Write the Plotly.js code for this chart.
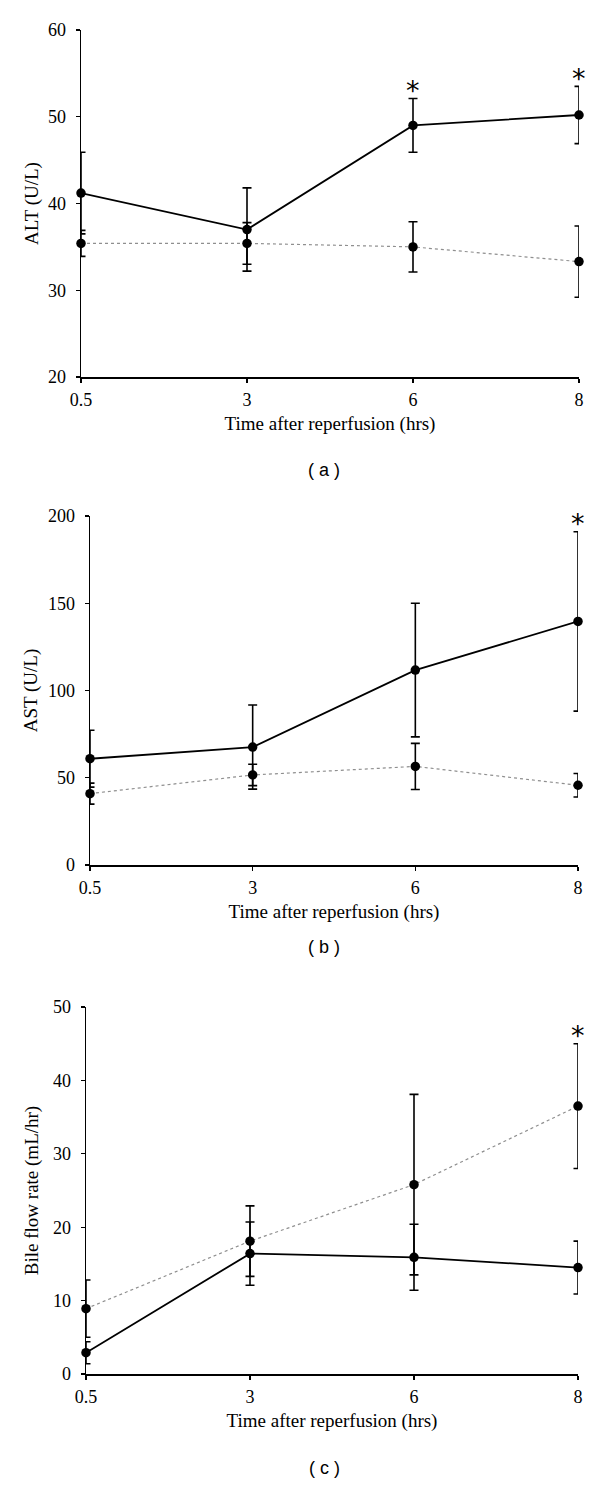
<!DOCTYPE html>
<html>
<head>
<meta charset="utf-8">
<script src="https://cdn.plot.ly/plotly-3.0.1.min.js"></script>
<style>
  html, body { margin: 0; padding: 0; background: #fff; }
  #chart { width: 600px; height: 1488px; }
</style>
</head>
<body>
<div id="chart"></div>
<script>
// ---------------- data ----------------
var times = ['0.5', '3', '6', '8'];

// (a) ALT (U/L)
var altSolid      = [41.2, 37.0, 49.0, 50.2];
var altSolidErr   = [4.7, 4.8, 3.1, 3.3];
var altDotted     = [35.4, 35.4, 35.0, 33.3];
var altDottedErr  = [1.5, 2.4, 2.9, 4.1];
var altSig        = [false, false, true, true];   // on solid series

// (b) AST (U/L)
var astSolid      = [60.9, 67.6, 111.7, 139.6];
var astSolidErr   = [16.3, 24.1, 38.3, 51.4];
var astDotted     = [40.9, 51.6, 56.5, 45.7];
var astDottedErr  = [6.0, 6.1, 13.2, 6.7];
var astSig        = [false, false, false, true];  // on solid series

// (c) Bile flow rate (mL/hr)
var bileSolid     = [2.9, 16.4, 15.9, 14.5];
var bileSolidErr  = [1.5, 4.3, 4.5, 3.6];
var bileDotted    = [8.9, 18.1, 25.8, 36.5];
var bileDottedErr = [3.9, 4.8, 12.3, 8.5];
var bileSig       = [false, false, false, true];  // on dotted series

var yTitles   = ['ALT (U/L)', 'AST (U/L)', 'Bile flow rate (mL/hr)'];
var xTitle    = 'Time after reperfusion (hrs)';
var panelTags = ['( a )', '( b )', '( c )'];
var yRanges   = [[20, 60], [0, 200], [0, 50]];
var yDticks   = [10, 50, 10];

// ---------------- layout geometry (px) ----------------
var W = 600, H = 1488;
var panels = [
  {x0: 81, x1: 579, yTop: 30,   yBot: 377,  tagY: 470,  yStand: 4},
  {x0: 90, x1: 578, yTop: 516,  yBot: 865,  tagY: 947,  yStand: 5},
  {x0: 86, x1: 578, yTop: 1007, yBot: 1374, tagY: 1468, yStand: 9}
];

var serif = 'Liberation Serif, Times New Roman, serif';
var sans  = 'Liberation Sans, Arial, sans-serif';

function errSpec(arr) {
  return {type: 'data', array: arr, visible: true, color: '#000', thickness: 1.6, width: 4.5};
}

var data = [];
var starNotes = [];

function addPanel(idx, solid, solidErr, dotted, dottedErr, sig, sigOnDotted) {
  var xa = idx === 0 ? 'x' : 'x' + (idx + 1);
  var ya = idx === 0 ? 'y' : 'y' + (idx + 1);
  data.push({
    x: times, y: dotted, xaxis: xa, yaxis: ya, type: 'scatter', mode: 'lines+markers',
    line: {color: '#8f8f8f', width: 1.2, dash: 'dot'},
    marker: {color: '#000', size: 9.5},
    error_y: errSpec(dottedErr), cliponaxis: false, showlegend: false, hoverinfo: 'x+y'
  });
  data.push({
    x: times, y: solid, xaxis: xa, yaxis: ya, type: 'scatter', mode: 'lines+markers',
    line: {color: '#000', width: 1.8},
    marker: {color: '#000', size: 9.5},
    error_y: errSpec(solidErr), cliponaxis: false, showlegend: false, hoverinfo: 'x+y'
  });
  var base = sigOnDotted ? dotted : solid;
  var be = sigOnDotted ? dottedErr : solidErr;
  for (var i = 0; i < times.length; i++) {
    if (sig[i]) {
      // category axes: annotation x is the category's serial index
      starNotes.push({
        xref: xa, yref: ya, x: i, y: base[i] + be[i],
        text: '*', showarrow: false, xanchor: 'center', yanchor: 'middle', yshift: 8,
        font: {family: 'DejaVu Sans, sans-serif', size: 27, color: '#000'}
      });
    }
  }
}

addPanel(0, altSolid, altSolidErr, altDotted, altDottedErr, altSig, false);
addPanel(1, astSolid, astSolidErr, astDotted, astDottedErr, astSig, false);
addPanel(2, bileSolid, bileSolidErr, bileDotted, bileDottedErr, bileSig, true);

var layout = {
  width: W, height: H,
  margin: {l: 0, r: 0, t: 0, b: 0},
  paper_bgcolor: '#fff', plot_bgcolor: '#fff',
  showlegend: false,
  annotations: starNotes.slice()
};

panels.forEach(function (p, i) {
  var sfx = i === 0 ? '' : String(i + 1);
  layout['xaxis' + sfx] = {
    type: 'category', range: [0, 3],
    domain: [p.x0 / W, p.x1 / W],
    anchor: 'y' + sfx,
    showline: true, linecolor: '#000', linewidth: 1.5,
    ticks: 'outside', ticklen: 4, tickwidth: 1.3, tickcolor: '#000',
    showgrid: false, zeroline: false, fixedrange: true,
    ticklabelstandoff: 2,
    tickfont: {family: serif, size: 18, color: '#000'},
    title: {text: xTitle, font: {family: serif, size: 19, color: '#000'}, standoff: 7}
  };
  layout['yaxis' + sfx] = {
    range: yRanges[i], dtick: yDticks[i], tick0: 0,
    domain: [1 - p.yBot / H, 1 - p.yTop / H],
    anchor: 'x' + sfx,
    showline: true, linecolor: '#000', linewidth: 1.5,
    ticks: 'outside', ticklen: 4, tickwidth: 1.3, tickcolor: '#000',
    showgrid: false, zeroline: false, fixedrange: true,
    ticklabelstandoff: 6,
    tickfont: {family: serif, size: 18, color: '#000'},
    title: {text: yTitles[i], font: {family: serif, size: 19, color: '#000'}, standoff: p.yStand}
  };
  layout.annotations.push({
    xref: 'paper', yref: 'paper', x: 324 / W, y: 1 - p.tagY / H,
    xanchor: 'center', yanchor: 'middle', showarrow: false,
    text: panelTags[i], font: {family: sans, size: 18, color: '#000'}
  });
});

Plotly.newPlot('chart', data, layout, {displayModeBar: false, staticPlot: true});
</script>
</body>
</html>
